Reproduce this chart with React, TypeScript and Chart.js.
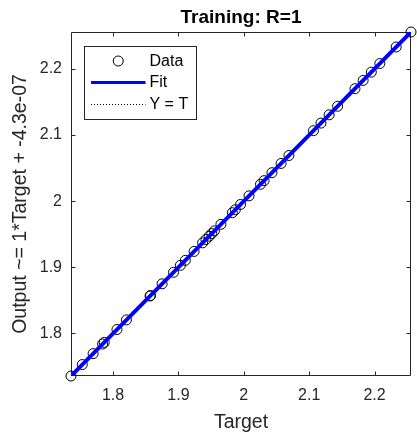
import React, { useEffect, useRef } from "react";
import { Chart, registerables } from "chart.js";

Chart.register(...registerables);

const TITLE = "Training: R=1";
const X_LABEL = "Target";
const Y_LABEL = "Output ~= 1*Target + -4.3e-07";

const targets = [
  1.7357, 1.753, 1.7695, 1.784, 1.7865, 1.806, 1.8205, 1.8566, 1.8574, 1.875,
  1.8925, 1.903, 1.9105, 1.924, 1.937, 1.942, 1.947, 1.951, 1.955, 1.965,
  1.9825, 1.987, 1.995, 2.008, 2.0255, 2.031, 2.043, 2.057, 2.069, 2.1065,
  2.118, 2.1305, 2.1435, 2.17, 2.1825, 2.195, 2.208, 2.233, 2.2557,
];
const outputs = [
  1.7357, 1.753, 1.7695, 1.784, 1.7865, 1.806, 1.8205, 1.8566, 1.8574, 1.875,
  1.8925, 1.903, 1.9105, 1.924, 1.937, 1.942, 1.947, 1.951, 1.955, 1.965,
  1.9825, 1.987, 1.995, 2.008, 2.0255, 2.031, 2.043, 2.057, 2.069, 2.1065,
  2.118, 2.1305, 2.1435, 2.17, 2.1825, 2.195, 2.208, 2.233, 2.2557,
];

const AXIS_MIN = 1.7357;
const AXIS_MAX = 2.2557;
const FIT_SLOPE = 1;
const FIT_INTERCEPT = -4.3e-7;

const tickValues = [1.8, 1.9, 2.0, 2.1, 2.2];
const tickLabels = ["1.8", "1.9", "2", "2.1", "2.2"];
const legendLabels = ["Data", "Fit", "Y = T"];

const AXIS_COLOR = "#262626";
const FIT_COLOR = "#0000ff";
const FONT = "'Liberation Sans', Arial, Helvetica, sans-serif";

const matlabPlugin = {
  id: "matlabAxes",
  beforeDatasetsDraw(chart: any) {
    const { ctx, chartArea: ca, scales } = chart;
    const l = Math.round(ca.left) + 0.5;
    const r = Math.round(ca.right) - 0.5;
    const t = Math.round(ca.top) + 0.5;
    const b = Math.round(ca.bottom) - 0.5;
    ctx.save();
    ctx.strokeStyle = AXIS_COLOR;
    ctx.lineWidth = 1;
    ctx.beginPath();
    ctx.rect(l, t, r - l, b - t);
    const tl = 4;
    tickValues.forEach((v) => {
      const px = Math.round(scales.x.getPixelForValue(v)) + 0.5;
      ctx.moveTo(px, b);
      ctx.lineTo(px, b - tl);
      ctx.moveTo(px, t);
      ctx.lineTo(px, t + tl);
      const py = Math.round(scales.y.getPixelForValue(v)) + 0.5;
      ctx.moveTo(l, py);
      ctx.lineTo(l + tl, py);
      ctx.moveTo(r, py);
      ctx.lineTo(r - tl, py);
    });
    ctx.stroke();
    ctx.restore();
  },
  afterDraw(chart: any) {
    const { ctx, chartArea: ca } = chart;
    const bx = Math.round(ca.left) + 13.5;
    const by = Math.round(ca.top) + 14.5;
    const bw = 112;
    const bh = 73;
    ctx.save();
    ctx.fillStyle = "#ffffff";
    ctx.fillRect(bx, by, bw, bh);
    ctx.strokeStyle = AXIS_COLOR;
    ctx.lineWidth = 1;
    ctx.strokeRect(bx, by, bw, bh);

    const rows = [by + 14.5, by + 36, by + 58];
    const sx0 = bx + 6.5;
    const sx1 = bx + 61;
    const tx = bx + 65;

    ctx.beginPath();
    ctx.arc((sx0 + sx1) / 2, rows[0], 5, 0, Math.PI * 2);
    ctx.strokeStyle = "#000";
    ctx.lineWidth = 1;
    ctx.stroke();

    ctx.beginPath();
    ctx.moveTo(sx0, rows[1]);
    ctx.lineTo(sx1, rows[1]);
    ctx.strokeStyle = FIT_COLOR;
    ctx.lineWidth = 3;
    ctx.stroke();

    ctx.beginPath();
    ctx.setLineDash([1, 2]);
    ctx.moveTo(sx0, rows[2]);
    ctx.lineTo(sx1, rows[2]);
    ctx.strokeStyle = "#000";
    ctx.lineWidth = 1;
    ctx.stroke();
    ctx.setLineDash([]);

    ctx.fillStyle = "#000";
    ctx.font = `16px ${FONT}`;
    ctx.textBaseline = "middle";
    ctx.textAlign = "left";
    legendLabels.forEach((lab, i) => ctx.fillText(lab, tx, rows[i] + 0.5));
    ctx.restore();
  },
};

export default function App() {
  const ref = useRef<HTMLCanvasElement>(null);

  useEffect(() => {
    if (!ref.current) return;
    const fitLine = [AXIS_MIN, AXIS_MAX].map((x) => ({ x, y: FIT_SLOPE * x + FIT_INTERCEPT }));
    const identity = [AXIS_MIN, AXIS_MAX].map((x) => ({ x, y: x }));
    const points = targets.map((t, i) => ({ x: t, y: outputs[i] }));

    const chart = new Chart(ref.current, {
      type: "scatter",
      data: {
        datasets: [
          {
            label: legendLabels[1],
            data: fitLine,
            showLine: true,
            borderColor: FIT_COLOR,
            borderWidth: 4,
            pointRadius: 0,
            order: 1,
          } as any,
          {
            label: legendLabels[2],
            data: identity,
            showLine: true,
            borderColor: "#000",
            borderWidth: 1,
            borderDash: [1, 2],
            pointRadius: 0,
            order: 2,
          } as any,
          {
            label: legendLabels[0],
            data: points,
            showLine: false,
            pointStyle: "circle",
            pointRadius: 5,
            pointBorderWidth: 1,
            pointBorderColor: "#000",
            pointBackgroundColor: "rgba(0,0,0,0)",
            clip: false,
            order: 3,
          } as any,
        ],
      },
      options: {
        animation: false,
        responsive: false,
        maintainAspectRatio: false,
        layout: { padding: { left: 0, right: 4, top: 0, bottom: 0 } },
        plugins: {
          legend: { display: false },
          tooltip: { enabled: false },
          title: {
            display: true,
            text: TITLE,
            fullSize: false,
            color: "#000",
            font: { family: FONT, size: 19, weight: "bold", lineHeight: 1 },
            padding: { top: 8, bottom: 5 },
          },
        },
        scales: {
          x: {
            type: "linear",
            min: AXIS_MIN,
            max: AXIS_MAX,
            afterBuildTicks: (s: any) => {
              s.ticks = tickValues.map((v) => ({ value: v }));
            },
            afterFit: (s: any) => {
              s.height = 61;
            },
            grid: { display: false, drawTicks: false },
            border: { display: false },
            ticks: {
              callback: (_v: any, i: number) => tickLabels[i],
              color: AXIS_COLOR,
              font: { family: FONT, size: 16 },
              padding: 10,
              maxRotation: 0,
              autoSkip: false,
            },
            title: {
              display: true,
              text: X_LABEL,
              color: AXIS_COLOR,
              font: { family: FONT, size: 19.5 },
              padding: { top: 0, bottom: 2.5 },
            },
          },
          y: {
            type: "linear",
            min: AXIS_MIN,
            max: AXIS_MAX,
            afterBuildTicks: (s: any) => {
              s.ticks = tickValues.map((v) => ({ value: v }));
            },
            afterFit: (s: any) => {
              s.width = 71;
            },
            grid: { display: false, drawTicks: false },
            border: { display: false },
            ticks: {
              callback: (_v: any, i: number) => tickLabels[i],
              color: AXIS_COLOR,
              font: { family: FONT, size: 16 },
              padding: 9,
              autoSkip: false,
            },
            title: {
              display: true,
              text: Y_LABEL,
              color: AXIS_COLOR,
              font: { family: FONT, size: 19.5 },
              padding: { top: 9, bottom: 0 },
            },
          },
        },
      },
      plugins: [matlabPlugin],
    });
    return () => chart.destroy();
  }, []);

  return (
    <div style={{ position: "fixed", left: 0, top: 0, width: 417, height: 437, background: "#fff" }}>
      <canvas ref={ref} width={417} height={437} style={{ width: 417, height: 437, display: "block" }} />
    </div>
  );
}
